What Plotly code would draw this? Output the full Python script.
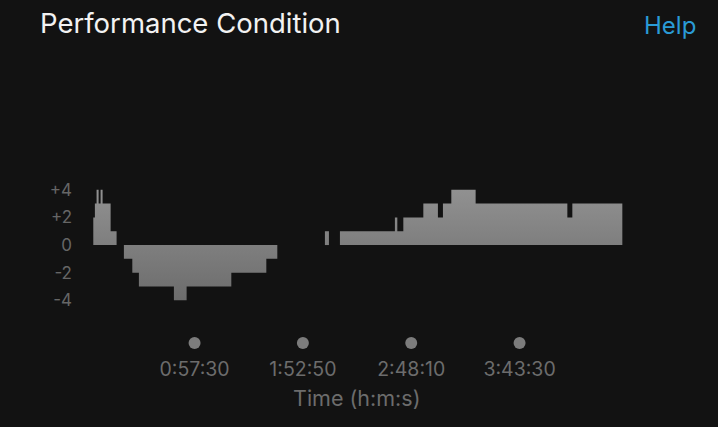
import plotly.graph_objects as go

# ---- data (seconds from start, condition value per segment; None = no data) ----
seg_start_s = [346, 395, 447, 509, 570, 631, 877, 1060,
               1284, 1542, 1744, 2817, 3206, 4576, 5649, 5986,
               7445, 7568,
               7905, 9590, 9664, 9848, 10461, 10908, 11062, 11319, 12064, 14875, 15028]
condition = [2, 3, 4, 3, 4, 3, 1, None,
             -1, -2, -3, -4, -3, -2, -1, None,
             1, None,
             1, 2, 1, 2, 3, 2, 3, 4, 3, 2, 3]
end_s = 16560

tick_seconds = [3450, 6770, 10090, 13410]
tick_labels = ["0:57:30", "1:52:50", "2:48:10", "3:43:30"]
y_ticks = [4, 2, 0, -2, -4]
y_tick_labels = ["+4", "+2", "0", "-2", "-4"]

BG = "#121212"
GRAY_TXT = "#6c6c6c"
FONT = "Inter, Roboto, Liberation Sans, sans-serif"

fig = go.Figure()

# split into contiguous segments
edges = seg_start_s + [end_s]
segments = []
cur_x, cur_y = [], []
for i, v in enumerate(condition):
    if v is None:
        if cur_x:
            cur_x.append(edges[i]); cur_y.append(cur_y[-1])
            segments.append((cur_x, cur_y))
        cur_x, cur_y = [], []
        continue
    cur_x.append(edges[i]); cur_y.append(v)
if cur_x:
    cur_x.append(edges[-1]); cur_y.append(cur_y[-1])
    segments.append((cur_x, cur_y))

for xs, ys in segments:
    fig.add_trace(go.Scatter(
        x=xs, y=ys, mode="lines", line=dict(width=0, shape="hv"),
        fill="tozeroy",
        fillgradient=dict(type="vertical", start=-4.5, stop=4.5,
                          colorscale=[[0, "#6a6a6a"], [1, "#939393"]]),
        hoverinfo="skip", showlegend=False))

# tick dots
DOT_Y = -7.1
fig.add_trace(go.Scatter(
    x=tick_seconds, y=[DOT_Y] * len(tick_seconds), mode="markers",
    marker=dict(size=12, color="#7c7c7c"), cliponaxis=False,
    hoverinfo="skip", showlegend=False))

W, H = 718, 427
L, R = 82.4, 64.6
T, B = 175.75, 76.7
pw = W - L - R
ph = H - T - B

def px(xp):
    return (xp - L) / pw

def py(yp):
    return (H - B - yp) / ph

fig.update_layout(
    width=W, height=H,
    margin=dict(l=L, r=R, t=T, b=B, pad=0),
    paper_bgcolor=BG, plot_bgcolor=BG,
    font=dict(family=FONT, color=GRAY_TXT),
    xaxis=dict(range=[0, 17500], showgrid=False, zeroline=False, showline=False,
               tickmode="array", tickvals=tick_seconds, ticktext=tick_labels,
               tickfont=dict(size=19.5, color=GRAY_TXT), ticks="",
               ticklabelstandoff=5),
    yaxis=dict(range=[-7.6, 5], showgrid=False, zeroline=False, showline=False,
               tickmode="array", tickvals=y_ticks, ticktext=y_tick_labels,
               tickfont=dict(size=17, color="#666666"), ticks="",
               ticklabelstandoff=9),
    annotations=[
        dict(text="Performance Condition", xref="paper", yref="paper",
             x=px(38), y=py(22), xanchor="left", yanchor="middle", showarrow=False,
             font=dict(size=27.5, color="#f2f2f2")),
        dict(text="Help", xref="paper", yref="paper",
             x=px(698), y=py(25), xanchor="right", yanchor="middle", showarrow=False,
             font=dict(size=24, color="#2a9bd6")),
        dict(text="Time (h:m:s)", xref="paper", yref="paper",
             x=px(357), y=py(398), xanchor="center", yanchor="middle", showarrow=False,
             font=dict(size=21.5, color=GRAY_TXT)),
    ],
)

fig.write_html("out.html", config={"displayModeBar": False},
               post_script="document.body.style.margin='0';document.body.style.background='#121212';")
